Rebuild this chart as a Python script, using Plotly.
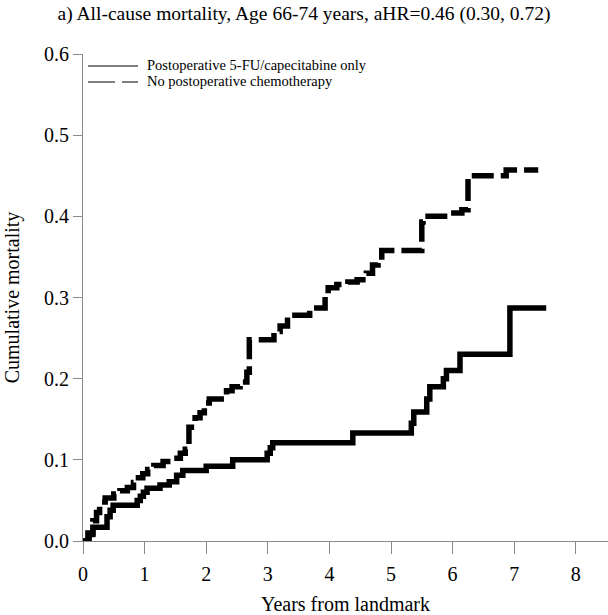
import plotly.graph_objects as go

# ---- data ----
SOL_T = [0, 0.10, 0.16, 0.39, 0.44, 0.49, 0.88, 0.93, 0.98, 1.04,
         1.25, 1.40, 1.52, 1.62, 2.00, 2.43, 2.99, 3.04, 3.08, 4.38,
         5.33, 5.37, 5.58, 5.63, 5.85, 5.90, 6.12, 6.93, 7.52]
SOL_Y = [0, 0.008, 0.017, 0.030, 0.038, 0.044, 0.050, 0.055, 0.060, 0.065,
         0.069, 0.073, 0.081, 0.087, 0.092, 0.100, 0.108, 0.115, 0.121, 0.133,
         0.145, 0.159, 0.175, 0.190, 0.200, 0.210, 0.230, 0.287, 0.287]

DASH_T = [0, 0.08, 0.16, 0.22, 0.27, 0.36, 0.50, 0.60, 0.72, 0.82,
          0.90, 0.97, 1.05, 1.15, 1.30, 1.45, 1.58, 1.66, 1.72, 1.76,
          1.82, 1.90, 1.97, 2.05, 2.33, 2.42, 2.55, 2.66, 2.70, 3.10,
          3.20, 3.32, 3.44, 3.68, 3.93, 3.98, 4.12, 4.30, 4.45, 4.60,
          4.70, 4.79, 4.85, 5.50, 5.52, 5.95, 6.15, 6.25, 6.87, 7.39]
DASH_Y = [0, 0.010, 0.025, 0.035, 0.048, 0.053, 0.058, 0.062, 0.066, 0.072,
          0.078, 0.083, 0.088, 0.093, 0.098, 0.102, 0.108, 0.113, 0.140, 0.146,
          0.152, 0.158, 0.170, 0.175, 0.185, 0.190, 0.196, 0.208, 0.248, 0.258,
          0.265, 0.272, 0.278, 0.287, 0.305, 0.312, 0.316, 0.319, 0.322, 0.330,
          0.340, 0.346, 0.358, 0.393, 0.400, 0.404, 0.408, 0.450, 0.457, 0.457]

SERIES_NAMES = ["Postoperative 5-FU/capecitabine only", "No postoperative chemotherapy"]
TITLE = "a) All-cause mortality, Age 66-74 years, aHR=0.46 (0.30, 0.72)"
X_TICKS = [0, 1, 2, 3, 4, 5, 6, 7, 8]
Y_TICKS = [0.0, 0.1, 0.2, 0.3, 0.4, 0.5, 0.6]

FONT = "Liberation Serif, Times New Roman, serif"
AX = "#8a8a8a"

W, H = 608, 615
ML, MR, MT, MB = 83, 0, 54, 74

fig = go.Figure()
fig.add_trace(go.Scatter(x=SOL_T, y=SOL_Y, mode="lines", line_shape="hv",
                         line=dict(color="black", width=5.5),
                         name=SERIES_NAMES[0], showlegend=False, hoverinfo="skip"))
fig.add_trace(go.Scatter(x=DASH_T, y=DASH_Y, mode="lines", line_shape="hv",
                         line=dict(color="black", width=5.5, dash="22px,7px"),
                         name=SERIES_NAMES[1], showlegend=False, hoverinfo="skip"))

# legend drawn manually (thin lines as in the reference)
def px2paper_x(px):
    return (px - ML) / (W - ML - MR)

def px2paper_y(py):
    return 1 - (py - MT) / (H - MT - MB)

legend_rows = [(66, [(88, 138)]), (82, [(88, 115), (122, 138)])]
for (py, segs), name in zip(legend_rows, SERIES_NAMES):
    for x0, x1 in segs:
        fig.add_shape(type="line", xref="paper", yref="paper",
                      x0=px2paper_x(x0), x1=px2paper_x(x1),
                      y0=px2paper_y(py), y1=px2paper_y(py),
                      line=dict(color="black", width=1))
    fig.add_annotation(xref="paper", yref="paper", x=px2paper_x(145), y=px2paper_y(py - 1),
                       text=name, showarrow=False, xanchor="left", yanchor="middle",
                       font=dict(family=FONT, size=14.5, color="black"))

fig.update_layout(
    width=W, height=H,
    margin=dict(l=ML, r=MR, t=MT, b=MB),
    paper_bgcolor="white", plot_bgcolor="white",
    font=dict(family=FONT, size=20, color="black"),
    title=dict(text=TITLE, x=0.5, xanchor="center", y=1 - 13 / H, yanchor="middle",
               font=dict(family=FONT, size=19.5, color="black")),
)
fig.update_xaxes(range=[0, (W - ML - MR) / 61.6], tickvals=X_TICKS,
                 showgrid=False, zeroline=False, showline=True, linecolor=AX, linewidth=1,
                 ticks="outside", ticklen=12, tickcolor=AX, tickwidth=1,
                 ticklabelstandoff=3,
                 tickfont=dict(family=FONT, size=20),
                 title=dict(text="Years from landmark", font=dict(family=FONT, size=20), standoff=13))
fig.update_yaxes(range=[0, 0.6], tickvals=Y_TICKS, tickformat=".1f",
                 showgrid=False, zeroline=False, showline=True, linecolor=AX, linewidth=1,
                 ticks="outside", ticklen=9, tickcolor=AX, tickwidth=1,
                 tickfont=dict(family=FONT, size=20),
                 title=dict(text="Cumulative mortality", font=dict(family=FONT, size=20), standoff=19))

fig.write_html("out.html", config={"displayModeBar": False},
               post_script="document.body.style.margin='0';")
